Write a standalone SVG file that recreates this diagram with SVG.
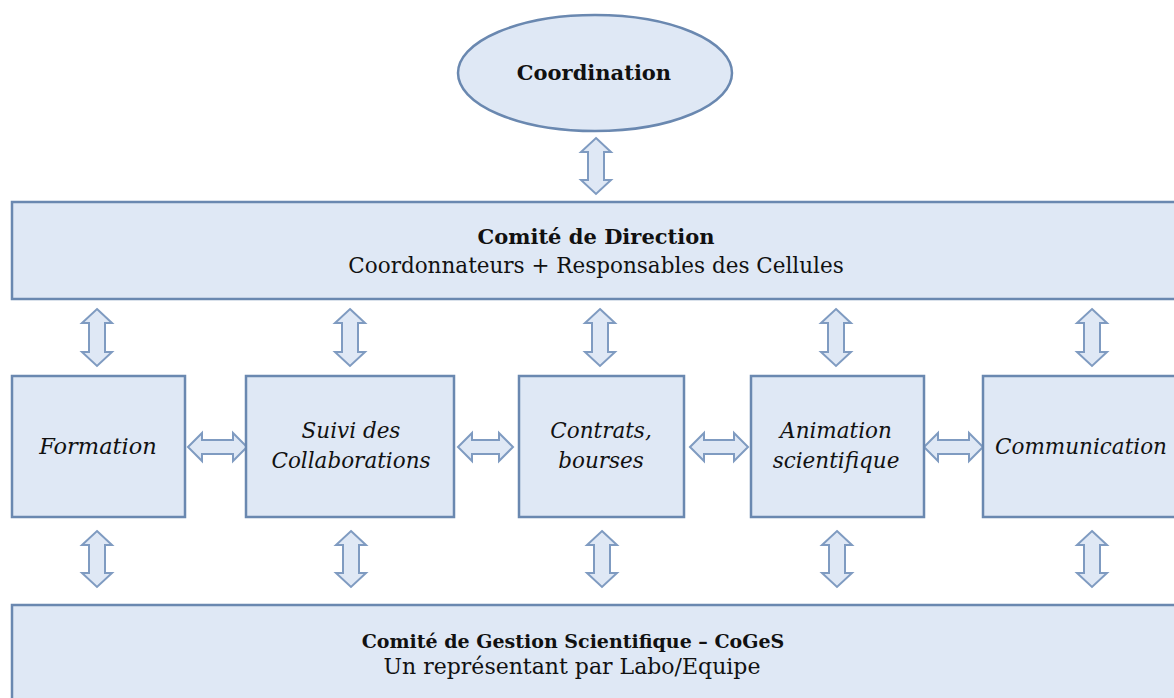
<svg xmlns="http://www.w3.org/2000/svg" width="1174" height="698" viewBox="0 0 1174 698">
<style>
.box{fill:#dfe8f5;stroke:#6a88b0;stroke-width:2.5}
.arr{fill:#dfe8f5;stroke:#7f9bc1;stroke-width:2;stroke-linejoin:miter}
.t{font-family:"DejaVu Serif","Liberation Serif",serif;fill:#111;text-anchor:middle}
.b{font-weight:bold;font-size:21px}
.r{font-size:21.5px}
.i{font-style:italic;font-size:21.5px}
</style>
<rect width="1174" height="698" fill="#ffffff"/>
<g id="connectors">
<path class="arr" d="M596,138 L611,152 L604,152 L604,180 L611,180 L596,194 L581,180 L588,180 L588,152 L581,152 Z"/>
<path class="arr" d="M97,309 L112,323 L105,323 L105,352 L112,352 L97,366 L82,352 L89,352 L89,323 L82,323 Z"/>
<path class="arr" d="M350,309 L365,323 L358,323 L358,352 L365,352 L350,366 L335,352 L342,352 L342,323 L335,323 Z"/>
<path class="arr" d="M600,309 L615,323 L608,323 L608,352 L615,352 L600,366 L585,352 L592,352 L592,323 L585,323 Z"/>
<path class="arr" d="M836,309 L851,323 L844,323 L844,352 L851,352 L836,366 L821,352 L828,352 L828,323 L821,323 Z"/>
<path class="arr" d="M1092,309 L1107,323 L1100,323 L1100,352 L1107,352 L1092,366 L1077,352 L1084,352 L1084,323 L1077,323 Z"/>
<path class="arr" d="M97,531 L112,545 L105,545 L105,573 L112,573 L97,587 L82,573 L89,573 L89,545 L82,545 Z"/>
<path class="arr" d="M351,531 L366,545 L359,545 L359,573 L366,573 L351,587 L336,573 L343,573 L343,545 L336,545 Z"/>
<path class="arr" d="M602,531 L617,545 L610,545 L610,573 L617,573 L602,587 L587,573 L594,573 L594,545 L587,545 Z"/>
<path class="arr" d="M837,531 L852,545 L845,545 L845,573 L852,573 L837,587 L822,573 L829,573 L829,545 L822,545 Z"/>
<path class="arr" d="M1092,531 L1107,545 L1100,545 L1100,573 L1107,573 L1092,587 L1077,573 L1084,573 L1084,545 L1077,545 Z"/>
<path class="arr" d="M188,447 L202,433 L202,440 L233,440 L233,433 L247,447 L233,461 L233,454 L202,454 L202,461 Z"/>
<path class="arr" d="M458,447 L472,433 L472,440 L499,440 L499,433 L513,447 L499,461 L499,454 L472,454 L472,461 Z"/>
<path class="arr" d="M690,447 L704,433 L704,440 L734,440 L734,433 L748,447 L734,461 L734,454 L704,454 L704,461 Z"/>
<path class="arr" d="M924,447 L938,433 L938,440 L969,440 L969,433 L983,447 L969,461 L969,454 L938,454 L938,461 Z"/>
</g>
<g id="coordination">
<ellipse class="box" cx="595" cy="73" rx="137" ry="58" stroke="#8aa3c6"/>
<text class="t b" x="594" y="80" font-size="21.5">Coordination</text>
</g>
<g id="comite-direction">
<rect class="box" x="12" y="202" width="1170" height="97"/>
<text class="t b" x="596" y="244">Comité de Direction</text>
<text class="t r" x="596" y="273">Coordonnateurs + Responsables des Cellules</text>
</g>
<g id="formation">
<rect class="box" x="12" y="376" width="173" height="141"/>
<text class="t i" x="98" y="454" style="font-size:22.5px">Formation</text>
</g>
<g id="suivi">
<rect class="box" x="246" y="376" width="208" height="141"/>
<text class="t i" x="351" y="438">Suivi des</text>
<text class="t i" x="351" y="468">Collaborations</text>
</g>
<g id="contrats">
<rect class="box" x="519" y="376" width="165" height="141"/>
<text class="t i" x="601" y="438">Contrats,</text>
<text class="t i" x="601" y="468">bourses</text>
</g>
<g id="animation">
<rect class="box" x="751" y="376" width="173" height="141"/>
<text class="t i" x="836" y="438">Animation</text>
<text class="t i" x="836" y="468">scientifique</text>
</g>
<g id="communication">
<rect class="box" x="983" y="376" width="200" height="141"/>
<text class="t i" x="1081" y="454">Communication</text>
</g>
<g id="coges">
<rect class="box" x="12" y="605" width="1170" height="110"/>
<text class="t b" x="573" y="648" style="font-size:19px">Comité de Gestion Scientifique – CoGeS</text>
<text class="t r" x="572" y="674" style="font-size:22px">Un représentant par Labo/Equipe</text>
</g>
</svg>
